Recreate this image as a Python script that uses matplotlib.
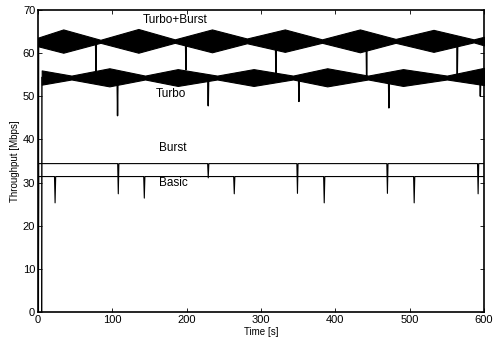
import numpy as np
import matplotlib
matplotlib.use("Agg")
import matplotlib.pyplot as plt

plt.rcParams['font.family'] = ['Liberation Sans', 'DejaVu Sans']

# ---- data ----
# Turbo+Burst: envelope of the dense oscillation (time, low, high)
tb_t  = [0, 34, 84, 135, 184, 234, 281, 332, 382, 433, 481, 532, 586, 600]
tb_hi = [63.6, 65.5, 63.1, 65.6, 63.2, 65.5, 63.4, 65.5, 63.2, 65.5, 63.3, 65.4, 63.2, 63.8]
tb_lo = [61.6, 60.1, 62.4, 60.1, 62.4, 60.2, 62.3, 60.3, 62.4, 60.2, 62.4, 60.3, 62.5, 61.8]
tb_dip_t = [78, 199, 320, 442, 564]
tb_dip_v = [55.7, 56.1, 55.0, 54.2, 55.0]

# Turbo
t_t  = [5, 45, 96, 144, 188, 241, 290, 343, 389, 444, 491, 550, 600]
t_hi = [56.0, 54.8, 56.5, 54.8, 56.3, 54.8, 56.3, 54.8, 56.5, 54.8, 56.3, 54.8, 56.6]
t_lo = [52.7, 53.9, 52.3, 53.9, 52.4, 53.9, 52.4, 53.9, 52.3, 53.9, 52.4, 53.9, 52.6]
t_dip_t = [107, 229, 351, 472, 595]
t_dip_v = [45.5, 47.8, 48.8, 47.3, 50.0]

# Burst
burst_level = 34.4
burst_dip_t = [108, 229, 349, 470, 592]
burst_dip_v = [27.4, 31.1, 27.5, 27.5, 27.4]

# Basic
basic_level = 31.4
basic_dip_t = [23, 143, 264, 385, 506]
basic_dip_v = [25.3, 26.4, 27.4, 25.3, 25.3]

labels = ["Turbo+Burst", "Turbo", "Burst", "Basic"]
label_t = [184, 179, 181, 182]
label_v = [67.8, 50.6, 38.0, 30.0]

xticks = [0, 100, 200, 300, 400, 500, 600]
yticks = [0, 10, 20, 30, 40, 50, 60, 70]

# ---- figure ----
fig = plt.figure(figsize=(4.94, 3.42), dpi=100)
ax = fig.add_axes([0.0769, 0.0877, 0.903, 0.883])

def spike_line(level_fn, start_t, dip_t, dip_v, w=0.8):
    xs = [start_t, start_t + 0.3]
    ys = [0, level_fn(start_t + 0.3)]
    for t, v in zip(dip_t, dip_v):
        xs += [t - w, t, t + w]
        ys += [level_fn(t - w), v, level_fn(t + w)]
    xs.append(600)
    ys.append(level_fn(600))
    return xs, ys

# bands
for tt, lo, hi, dt, dv, st in [(tb_t, tb_lo, tb_hi, tb_dip_t, tb_dip_v, 0.5),
                               (t_t, t_lo, t_hi, t_dip_t, t_dip_v, 5)]:
    ax.fill_between(tt, lo, hi, color='black', linewidth=0.8, edgecolor='black')
    center = lambda x, tt=tt, lo=lo, hi=hi: (np.interp(x, tt, lo) + np.interp(x, tt, hi)) / 2
    for t, v in zip(dt, dv):
        ax.plot([t - 0.6, t, t + 0.6], [center(t - 0.6), v, center(t + 0.6)],
                color='black', lw=1.0)
    ax.plot([st, st + 0.3], [0, center(st + 0.3)], color='black', lw=1.0)

for level, dt, dv in [(burst_level, burst_dip_t, burst_dip_v),
                      (basic_level, basic_dip_t, basic_dip_v)]:
    xs, ys = spike_line(lambda x, L=level: L, 0.5, dt, dv)
    ax.plot(xs, ys, color='black', lw=0.8)

for s, x, y in zip(labels, label_t, label_v):
    ax.text(x, y, s, ha='center', va='center', fontsize=8.5)

ax.set_xlim(0, 600)
ax.set_ylim(0, 70)
ax.set_xticks(xticks)
ax.set_yticks(yticks)
ax.tick_params(direction='in', top=True, right=True, labelsize=8, length=3, width=0.6, pad=2)
for sp in ax.spines.values():
    sp.set_linewidth(1.2)
ax.set_xlabel("Time [s]", fontsize=7, labelpad=1.5)
ax.set_ylabel("Throughput [Mbps]", fontsize=7, labelpad=2)

fig.savefig("out.png", dpi=100)
